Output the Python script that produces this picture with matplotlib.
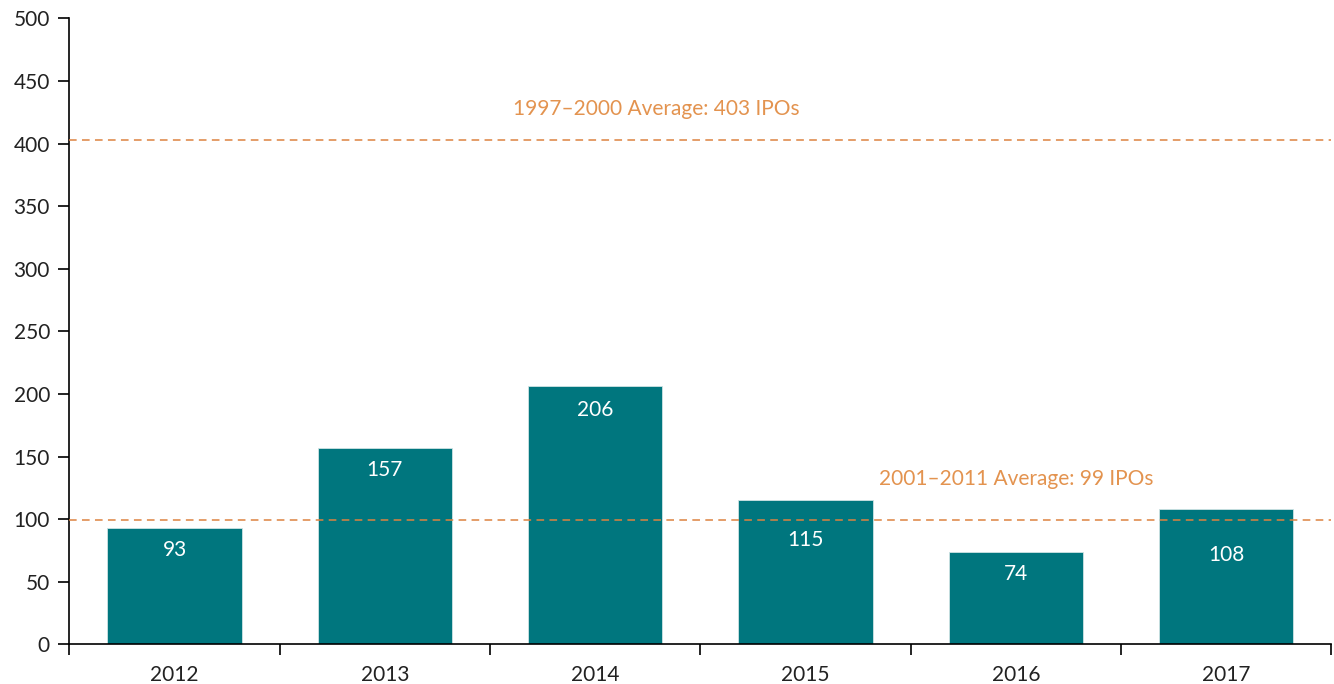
import matplotlib
matplotlib.use('Agg')
import matplotlib.pyplot as plt
import numpy as np

plt.rcParams['font.family'] = ['Lato', 'DejaVu Sans']
plt.rcParams['font.size'] = 15

years = ['2012', '2013', '2014', '2015', '2016', '2017']
ipos = [93, 157, 206, 115, 74, 108]
avg_values = [403, 99]
avg_labels = ['1997\u20132000 Average: 403 IPOs', '2001\u20132011 Average: 99 IPOs']

# label offset below bar top (data units); two labels pushed under the 99 line
label_offsets = [18, 18, 19, 32, 18, 37]

BAR_COLOR = '#00767E'
LINE_COLOR = '#DD8240'
TEXT_COLOR = '#E3934F'

fig = plt.figure(figsize=(13.34, 6.84), dpi=100)
ax = fig.add_axes([0.052, 0.058, 0.946, 0.915])

x = np.arange(len(years))
ax.bar(x, ipos, width=0.64, color=BAR_COLOR, edgecolor='#CFE3E4', linewidth=0.6, zorder=2)
for xi, v, off in zip(x, ipos, label_offsets):
    ax.text(xi, v - off, str(v), ha='center', va='center', color='white',
            fontsize=15, zorder=4)

for v in avg_values:
    ax.axhline(v, color=LINE_COLOR, linestyle=(0, (5, 3.5)), linewidth=1.1, zorder=3)
ax.text(2.29, 428, avg_labels[0], ha='center', va='center', color=TEXT_COLOR, fontsize=15)
ax.text(4.0, 132, avg_labels[1], ha='center', va='center', color=TEXT_COLOR, fontsize=15)

ax.set_xlim(-0.5, len(years) - 0.5)
ax.set_ylim(0, 500)
ax.set_yticks(np.arange(0, 501, 50))
ax.set_xticks(x)
ax.set_xticklabels(years)
ax.set_xticks(np.arange(-0.5, len(years)), minor=True)
ax.tick_params(axis='x', which='major', length=0, pad=15, labelsize=15, colors='#222222')
ax.tick_params(axis='x', which='minor', length=8, width=1.2, color='black')
ax.tick_params(axis='y', length=8, width=1.2, labelsize=15, labelcolor='#222222', pad=6)

for s in ['top', 'right']:
    ax.spines[s].set_visible(False)
for s in ['left', 'bottom']:
    ax.spines[s].set_linewidth(1.2)

fig.savefig('out.png', dpi=100)
